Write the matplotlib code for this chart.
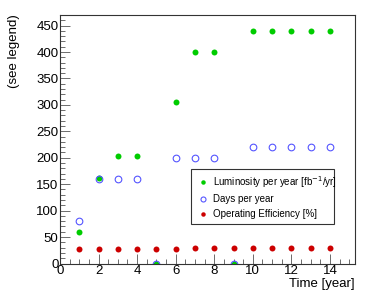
import numpy as np
import matplotlib
matplotlib.use("Agg")
import matplotlib.pyplot as plt
from matplotlib.ticker import MultipleLocator

plt.rcParams['font.family'] = ['Liberation Sans', 'DejaVu Sans']

years = np.arange(1, 15)
lumi = [60, 162, 203, 203, 0, 305, 400, 400, 0, 440, 440, 440, 440, 440]
days = [80, 160, 160, 160, 0, 200, 200, 200, 0, 220, 220, 220, 220, 220]
eff = [28, 28, 28, 28, 28, 28, 30, 30, 30, 30, 30, 30, 30, 30]

fig = plt.figure(figsize=(3.74, 2.97), dpi=100)
ax = fig.add_axes([60/374, 1 - 263.5/297, 295/374, 249/297])

ax.plot(years, lumi, 'o', color='#00cc00', markersize=4.3, markeredgewidth=0,
        label='Luminosity per year [fb$^{-1}$/yr]')
ax.plot(years, days, 'o', mfc='none', mec='#5555ff', markersize=4.8, markeredgewidth=0.8,
        label='Days per year')
ax.plot(years, eff, 'o', color='#cc0000', markersize=4.3, markeredgewidth=0,
        label='Operating Efficiency [%]')

ax.set_xlim(0, 15.3)
ax.set_ylim(0, 471)
ax.xaxis.set_major_locator(MultipleLocator(2))
ax.xaxis.set_minor_locator(MultipleLocator(0.5))
ax.yaxis.set_major_locator(MultipleLocator(50))
ax.yaxis.set_minor_locator(MultipleLocator(10))
ax.tick_params(which='both', direction='in', top=False, right=False, labelsize=9.5,
               pad=1, width=0.6, color='#555555')
ax.tick_params(which='major', length=7)
ax.tick_params(which='minor', length=3.5)
for s in ax.spines.values():
    s.set_linewidth(0.8)
    s.set_color('#333333')

ax.set_xlabel('Time [year]', fontsize=9.5, loc='right', labelpad=1)
ax.set_ylabel('(see legend)', fontsize=9.5, loc='top', labelpad=12)

leg = ax.legend(loc='lower left', bbox_to_anchor=(0.444, 0.158, 0.485, 0.209),
                mode='expand', fontsize=7, frameon=True, fancybox=False,
                handletextpad=0.4, borderpad=0.5, labelspacing=0.5,
                handlelength=1.4, borderaxespad=0, markerscale=0.75)
leg.get_frame().set_edgecolor('black')
leg.get_frame().set_linewidth(0.8)

fig.savefig('out.png', dpi=100)
